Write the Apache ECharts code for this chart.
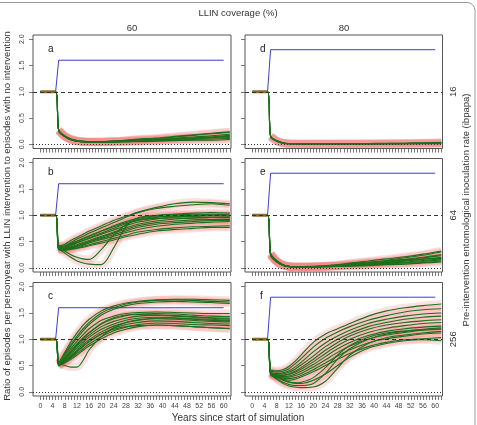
<!DOCTYPE html>
<html>
<head>
<meta charset="utf-8">
<script src="https://cdn.jsdelivr.net/npm/echarts@6/dist/echarts.min.js"></script>
<style>
  html, body { margin: 0; padding: 0; background: #fff; }
  #chart { width: 477px; height: 425px; }
</style>
</head>
<body>
<div id="chart"></div>
<script>
// sampled years of each simulated run after the nets go out
const years = [6, 8, 10, 12, 14, 16, 20, 24, 28, 32, 38, 44, 50, 56, 62];
// before the intervention every run sits at ratio 1
const preYears = [0, 5];
const preValues = [1, 1];
// blue step line (net coverage marker)
const blueYears = [5, 6, 60];
const blue60 = [1, 1.6, 1.6];
const blue80 = [1, 1.8, 1.8];

const coverageLabels = ["60", "80"];
const eirLabels = ["16", "64", "256"];
const panelLetters = ["a", "b", "c", "d", "e", "f"];
const xTickLabels = [0, 4, 8, 12, 16, 20, 24, 28, 32, 36, 40, 44, 48, 52, 56, 60];
const yTickLabels = [0, 0.5, 1, 1.5, 2];

// panel a: 60 % coverage, EIR 16
const runsA = [
  [0.27, 0.16, 0.10, 0.07, 0.055, 0.05, 0.05, 0.06, 0.07, 0.09, 0.11, 0.14, 0.17, 0.20, 0.23],
  [0.26, 0.15, 0.09, 0.06, 0.05, 0.045, 0.045, 0.05, 0.06, 0.08, 0.10, 0.12, 0.14, 0.16, 0.19],
  [0.28, 0.16, 0.10, 0.07, 0.05, 0.05, 0.05, 0.05, 0.06, 0.07, 0.08, 0.10, 0.12, 0.13, 0.15],
  [0.25, 0.15, 0.09, 0.06, 0.05, 0.04, 0.04, 0.05, 0.05, 0.06, 0.07, 0.08, 0.09, 0.10, 0.11],
  [0.27, 0.15, 0.09, 0.06, 0.05, 0.05, 0.05, 0.06, 0.08, 0.10, 0.12, 0.15, 0.18, 0.21, 0.24],
  [0.26, 0.14, 0.08, 0.06, 0.045, 0.04, 0.04, 0.04, 0.05, 0.05, 0.06, 0.07, 0.08, 0.08, 0.09],
  [0.27, 0.16, 0.10, 0.07, 0.06, 0.05, 0.05, 0.06, 0.07, 0.08, 0.09, 0.11, 0.12, 0.14, 0.17],
  [0.26, 0.15, 0.09, 0.06, 0.05, 0.045, 0.045, 0.05, 0.05, 0.06, 0.08, 0.09, 0.11, 0.12, 0.13]
];
// panel b: 60 %, EIR 64
const runsB = [
  [0.42, 0.45, 0.52, 0.58, 0.64, 0.70, 0.80, 0.90, 0.98, 1.06, 1.15, 1.22, 1.25, 1.24, 1.22],
  [0.40, 0.42, 0.48, 0.55, 0.60, 0.66, 0.76, 0.86, 0.96, 1.05, 1.13, 1.17, 1.20, 1.22, 1.19],
  [0.38, 0.40, 0.45, 0.50, 0.55, 0.60, 0.70, 0.80, 0.88, 0.94, 0.99, 1.02, 1.04, 1.05, 1.04],
  [0.37, 0.38, 0.42, 0.47, 0.52, 0.57, 0.66, 0.75, 0.84, 0.90, 0.96, 0.99, 1.00, 1.02, 1.01],
  [0.39, 0.40, 0.44, 0.48, 0.52, 0.56, 0.64, 0.72, 0.80, 0.87, 0.93, 0.97, 0.98, 0.99, 0.98],
  [0.36, 0.37, 0.40, 0.44, 0.48, 0.52, 0.60, 0.68, 0.76, 0.83, 0.89, 0.93, 0.95, 0.96, 0.95],
  [0.35, 0.36, 0.39, 0.42, 0.46, 0.50, 0.58, 0.66, 0.73, 0.80, 0.86, 0.89, 0.91, 0.92, 0.92],
  [0.38, 0.36, 0.38, 0.41, 0.45, 0.49, 0.56, 0.63, 0.70, 0.77, 0.83, 0.86, 0.88, 0.90, 0.90],
  [0.34, 0.35, 0.37, 0.40, 0.43, 0.47, 0.54, 0.60, 0.67, 0.73, 0.79, 0.83, 0.85, 0.87, 0.88],
  [0.36, 0.34, 0.36, 0.38, 0.41, 0.44, 0.50, 0.56, 0.62, 0.68, 0.73, 0.76, 0.78, 0.79, 0.80],
  [0.35, 0.33, 0.35, 0.37, 0.39, 0.42, 0.47, 0.53, 0.59, 0.64, 0.70, 0.73, 0.75, 0.77, 0.77],
  [0.40, 0.32, 0.25, 0.20, 0.17, 0.16, 0.35, 0.62, 0.82, 0.92, 0.97, 0.98, 0.97, 0.96, 0.96],
  [0.38, 0.28, 0.20, 0.13, 0.09, 0.07, 0.06, 0.38, 0.78, 0.95, 1.00, 1.02, 1.01, 1.00, 1.00],
  [0.41, 0.42, 0.46, 0.51, 0.56, 0.61, 0.70, 0.78, 0.86, 0.91, 0.94, 0.95, 0.93, 0.92, 0.91]
];
// panel c: 60 %, EIR 256
const runsC = [
  [0.56, 0.75, 0.95, 1.12, 1.27, 1.38, 1.54, 1.63, 1.69, 1.72, 1.75, 1.76, 1.76, 1.75, 1.74],
  [0.55, 0.72, 0.90, 1.06, 1.20, 1.32, 1.50, 1.60, 1.67, 1.71, 1.74, 1.75, 1.74, 1.72, 1.71],
  [0.54, 0.70, 0.87, 1.02, 1.16, 1.28, 1.46, 1.57, 1.64, 1.68, 1.71, 1.72, 1.71, 1.70, 1.68],
  [0.52, 0.66, 0.82, 0.96, 1.09, 1.20, 1.36, 1.44, 1.49, 1.51, 1.52, 1.51, 1.50, 1.49, 1.49],
  [0.53, 0.64, 0.78, 0.91, 1.03, 1.13, 1.29, 1.39, 1.45, 1.48, 1.49, 1.48, 1.46, 1.44, 1.43],
  [0.51, 0.62, 0.74, 0.87, 0.98, 1.08, 1.24, 1.34, 1.40, 1.44, 1.46, 1.45, 1.43, 1.41, 1.40],
  [0.50, 0.60, 0.71, 0.83, 0.94, 1.04, 1.19, 1.29, 1.36, 1.40, 1.42, 1.41, 1.39, 1.38, 1.36],
  [0.52, 0.59, 0.68, 0.79, 0.90, 0.99, 1.14, 1.25, 1.32, 1.36, 1.39, 1.38, 1.36, 1.34, 1.33],
  [0.50, 0.57, 0.66, 0.76, 0.86, 0.95, 1.10, 1.21, 1.28, 1.32, 1.35, 1.34, 1.32, 1.30, 1.29],
  [0.49, 0.56, 0.64, 0.73, 0.82, 0.91, 1.05, 1.16, 1.23, 1.28, 1.31, 1.30, 1.28, 1.27, 1.26],
  [0.51, 0.55, 0.62, 0.70, 0.79, 0.87, 1.01, 1.12, 1.19, 1.24, 1.27, 1.26, 1.24, 1.22, 1.21],
  [0.55, 0.50, 0.47, 0.47, 0.60, 0.80, 1.05, 1.22, 1.32, 1.37, 1.40, 1.40, 1.38, 1.36, 1.35],
  [0.53, 0.63, 0.76, 0.89, 1.01, 1.12, 1.30, 1.41, 1.46, 1.47, 1.46, 1.44, 1.42, 1.40, 1.38],
  [0.52, 0.58, 0.67, 0.77, 0.87, 0.96, 1.10, 1.19, 1.24, 1.26, 1.27, 1.26, 1.24, 1.22, 1.20]
];
// panel d: 80 %, EIR 16
const runsD = [
  [0.16, 0.07, 0.03, 0.015, 0.01, 0.01, 0.01, 0.01, 0.01, 0.01, 0.01, 0.015, 0.02, 0.02, 0.03],
  [0.15, 0.06, 0.025, 0.01, 0.01, 0.01, 0.01, 0.01, 0.01, 0.01, 0.01, 0.01, 0.015, 0.02, 0.02],
  [0.14, 0.06, 0.02, 0.01, 0.01, 0.005, 0.005, 0.005, 0.01, 0.01, 0.01, 0.01, 0.01, 0.015, 0.02],
  [0.16, 0.07, 0.03, 0.015, 0.01, 0.01, 0.01, 0.01, 0.01, 0.01, 0.015, 0.02, 0.02, 0.03, 0.04],
  [0.15, 0.06, 0.02, 0.01, 0.005, 0.005, 0.005, 0.005, 0.005, 0.005, 0.005, 0.01, 0.01, 0.01, 0.01],
  [0.14, 0.07, 0.03, 0.01, 0.01, 0.01, 0.01, 0.01, 0.01, 0.01, 0.01, 0.01, 0.015, 0.02, 0.03]
];
// panel e: 80 %, EIR 64
const runsE = [
  [0.27, 0.13, 0.06, 0.03, 0.02, 0.02, 0.02, 0.03, 0.05, 0.07, 0.10, 0.14, 0.19, 0.24, 0.30],
  [0.25, 0.12, 0.05, 0.025, 0.02, 0.02, 0.02, 0.03, 0.04, 0.06, 0.09, 0.12, 0.15, 0.19, 0.23],
  [0.28, 0.14, 0.06, 0.03, 0.02, 0.02, 0.03, 0.04, 0.06, 0.09, 0.13, 0.17, 0.21, 0.26, 0.32],
  [0.24, 0.11, 0.05, 0.02, 0.015, 0.015, 0.02, 0.02, 0.03, 0.04, 0.06, 0.08, 0.10, 0.12, 0.15],
  [0.26, 0.12, 0.05, 0.025, 0.02, 0.02, 0.02, 0.03, 0.04, 0.05, 0.07, 0.10, 0.13, 0.16, 0.20],
  [0.23, 0.11, 0.05, 0.02, 0.015, 0.015, 0.015, 0.02, 0.025, 0.03, 0.04, 0.06, 0.07, 0.09, 0.11],
  [0.27, 0.13, 0.06, 0.03, 0.02, 0.02, 0.025, 0.035, 0.05, 0.08, 0.11, 0.13, 0.16, 0.20, 0.25],
  [0.25, 0.12, 0.05, 0.025, 0.02, 0.02, 0.02, 0.025, 0.035, 0.05, 0.08, 0.11, 0.14, 0.17, 0.18],
  [0.26, 0.13, 0.06, 0.03, 0.02, 0.02, 0.02, 0.03, 0.04, 0.06, 0.08, 0.09, 0.11, 0.14, 0.17],
  [0.24, 0.12, 0.05, 0.02, 0.015, 0.015, 0.015, 0.02, 0.03, 0.04, 0.05, 0.07, 0.09, 0.10, 0.13]
];
// panel f: 80 %, EIR 256
const runsF = [
  [0.42, 0.40, 0.42, 0.48, 0.58, 0.70, 0.94, 1.10, 1.20, 1.30, 1.44, 1.54, 1.60, 1.64, 1.67],
  [0.40, 0.38, 0.39, 0.44, 0.53, 0.63, 0.85, 1.02, 1.14, 1.24, 1.36, 1.45, 1.52, 1.56, 1.58],
  [0.38, 0.35, 0.36, 0.40, 0.47, 0.56, 0.76, 0.93, 1.06, 1.17, 1.30, 1.38, 1.44, 1.48, 1.50],
  [0.36, 0.34, 0.34, 0.37, 0.43, 0.51, 0.68, 0.86, 1.00, 1.11, 1.24, 1.32, 1.38, 1.42, 1.44],
  [0.39, 0.33, 0.32, 0.34, 0.39, 0.46, 0.62, 0.79, 0.94, 1.06, 1.19, 1.27, 1.32, 1.35, 1.37],
  [0.37, 0.32, 0.31, 0.33, 0.37, 0.43, 0.57, 0.73, 0.88, 1.00, 1.13, 1.21, 1.26, 1.30, 1.32],
  [0.35, 0.31, 0.29, 0.30, 0.34, 0.39, 0.52, 0.67, 0.82, 0.94, 1.07, 1.15, 1.20, 1.23, 1.25],
  [0.34, 0.30, 0.28, 0.28, 0.31, 0.35, 0.47, 0.61, 0.75, 0.87, 1.00, 1.08, 1.13, 1.17, 1.19],
  [0.36, 0.29, 0.26, 0.25, 0.27, 0.31, 0.42, 0.55, 0.68, 0.80, 0.93, 1.01, 1.06, 1.10, 1.12],
  [0.33, 0.28, 0.24, 0.22, 0.24, 0.28, 0.38, 0.50, 0.62, 0.73, 0.86, 0.94, 0.99, 1.01, 1.03],
  [0.35, 0.25, 0.18, 0.14, 0.12, 0.12, 0.16, 0.35, 0.62, 0.82, 1.00, 1.10, 1.15, 1.18, 1.20],
  [0.34, 0.24, 0.16, 0.11, 0.09, 0.08, 0.09, 0.20, 0.45, 0.70, 0.92, 1.03, 1.08, 1.12, 1.15],
  [0.37, 0.30, 0.24, 0.19, 0.17, 0.18, 0.27, 0.46, 0.70, 0.88, 1.04, 1.12, 1.16, 1.19, 1.22],
  [0.32, 0.27, 0.22, 0.18, 0.16, 0.16, 0.22, 0.34, 0.50, 0.66, 0.83, 0.92, 0.97, 0.99, 0.97]
];

const chart = echarts.init(document.getElementById("chart"));
const font = "'Liberation Sans', Arial, sans-serif";

// plot boxes in pixels
const cols = [[33, 231], [245, 442.5]];
const rows = [[35, 148.5], [158.5, 272], [282.5, 396]];
const xRange = [-2.4, 62.4];
const yRange = [-0.08, 2.08];

const panels = [
  { runs: runsA, col: 0, row: 0, blue: blue60 },
  { runs: runsB, col: 0, row: 1, blue: blue60 },
  { runs: runsC, col: 0, row: 2, blue: blue60 },
  { runs: runsD, col: 1, row: 0, blue: blue80 },
  { runs: runsE, col: 1, row: 1, blue: blue80 },
  { runs: runsF, col: 1, row: 2, blue: blue80 }
];

const grid = [], xAxis = [], yAxis = [], series = [], graphic = [];

panels.forEach((p, i) => {
  const [x0, x1] = cols[p.col];
  const [y0, y1] = rows[p.row];
  const W = x1 - x0, H = y1 - y0;
  const padX = W * (0 - xRange[0]) / (xRange[1] - xRange[0]);
  const padY = H * (0 - yRange[0]) / (yRange[1] - yRange[0]);
  const tickW = W * 62 / (xRange[1] - xRange[0]);
  const tickH = H * 2 / (yRange[1] - yRange[0]);

  // box grid that holds the data
  grid.push({ left: x0, top: y0, width: W, height: H, show: true, borderColor: "#555", borderWidth: 1 });
  xAxis.push({ gridIndex: 2 * i, type: "value", min: xRange[0], max: xRange[1], show: false });
  yAxis.push({ gridIndex: 2 * i, type: "value", min: yRange[0], max: yRange[1], show: false });

  // tick grid: same scale, starting at 0 so the ticks line up
  grid.push({ left: x0 + padX, top: y1 - padY - tickH, width: tickW, height: tickH });
  xAxis.push({
    gridIndex: 2 * i + 1, type: "value", min: 0, max: 62, interval: 1,
    offset: padY,
    axisLine: { show: false, onZero: false },
    axisTick: { length: 4, lineStyle: { color: "#555", width: 0.8 } },
    splitLine: { show: false },
    axisLabel: {
      show: p.row === 2, margin: 7, fontSize: 7, color: "#444", fontFamily: font,
      formatter: v => xTickLabels.includes(v) ? String(v) : ""
    }
  });
  yAxis.push({
    gridIndex: 2 * i + 1, type: "value", min: 0, max: 2, interval: 0.5,
    offset: padX,
    axisLine: { show: false, onZero: false },
    axisTick: { length: 4, lineStyle: { color: "#555", width: 0.8 } },
    splitLine: { show: false },
    axisLabel: {
      show: p.col === 0, margin: 7, fontSize: 7, color: "#444", fontFamily: font, rotate: 90,
      formatter: v => yTickLabels.includes(v) ? v.toFixed(1) : ""
    }
  });

  const pre = preYears.map((y, k) => [y, preValues[k]]);
  const post = vals => years.map((y, k) => [y, vals[k]]);

  // pink envelopes under the runs
  p.runs.forEach(vals => series.push({
    type: "line", xAxisIndex: 2 * i, yAxisIndex: 2 * i, data: post(vals),
    symbol: "none", smooth: 0.3, silent: true, z: 1,
    lineStyle: { color: "rgba(244,130,130,0.24)", width: 8, cap: "butt", join: "round" }
  }));
  p.runs.forEach(vals => series.push({
    type: "line", xAxisIndex: 2 * i, yAxisIndex: 2 * i, data: pre.concat(post(vals)),
    symbol: "none", smooth: 0.3, silent: true, z: 2,
    lineStyle: { color: "#1c701c", width: 1.1 }
  }));
  series.push({
    type: "line", xAxisIndex: 2 * i, yAxisIndex: 2 * i, data: pre,
    symbol: "none", silent: true, z: 3,
    lineStyle: { color: "#8a6a2e", width: 3 }
  });
  series.push({
    type: "line", xAxisIndex: 2 * i, yAxisIndex: 2 * i,
    data: blueYears.map((y, k) => [y, p.blue[k]]),
    symbol: "none", silent: true, z: 4,
    lineStyle: { color: "#3d3dcc", width: 1 },
    markLine: {
      silent: true, symbol: "none", label: { show: false },
      data: [
        { yAxis: 1, lineStyle: { color: "#333", type: [4, 3], width: 1 } },
        { yAxis: 0, lineStyle: { color: "#333", type: [1, 2], width: 1 } }
      ]
    }
  });

  graphic.push({
    type: "text", left: x0 + 15, top: y0 + 9,
    style: { text: panelLetters[i], font: "10px " + font, fill: "#222" }
  });
});

const txt = (x, y, text, size, rot) => ({
  type: "text", x: x, y: y, rotation: rot || 0,
  style: { text: text, font: size + "px " + font, fill: "#333", align: "center", verticalAlign: "middle" }
});

graphic.push({
  type: "rect", shape: { x: -10, y: 2.5, width: 485, height: 440, r: 8 },
  style: { fill: "none", stroke: "#999", lineWidth: 1 }
});
graphic.push(txt(238, 13, "LLIN coverage (%)", 9.5));
graphic.push(txt(132, 28, coverageLabels[0], 9.5));
graphic.push(txt(344, 28, coverageLabels[1], 9.5));
graphic.push(txt(238, 418, "Years since start of simulation", 10));
graphic.push(txt(7, 216, "Ratio of episodes per personyear with LLIN intervention to episodes with no intervention", 9.5, Math.PI / 2));
graphic.push(txt(466, 210, "Pre-intervention entomological inoculation rate (ibpapa)", 9.5, Math.PI / 2));
rows.forEach((r, k) => graphic.push(txt(453, (r[0] + r[1]) / 2, eirLabels[k], 9.5, Math.PI / 2)));

chart.setOption({
  animation: false,
  grid: grid,
  xAxis: xAxis,
  yAxis: yAxis,
  series: series,
  graphic: graphic
});
</script>
</body>
</html>
